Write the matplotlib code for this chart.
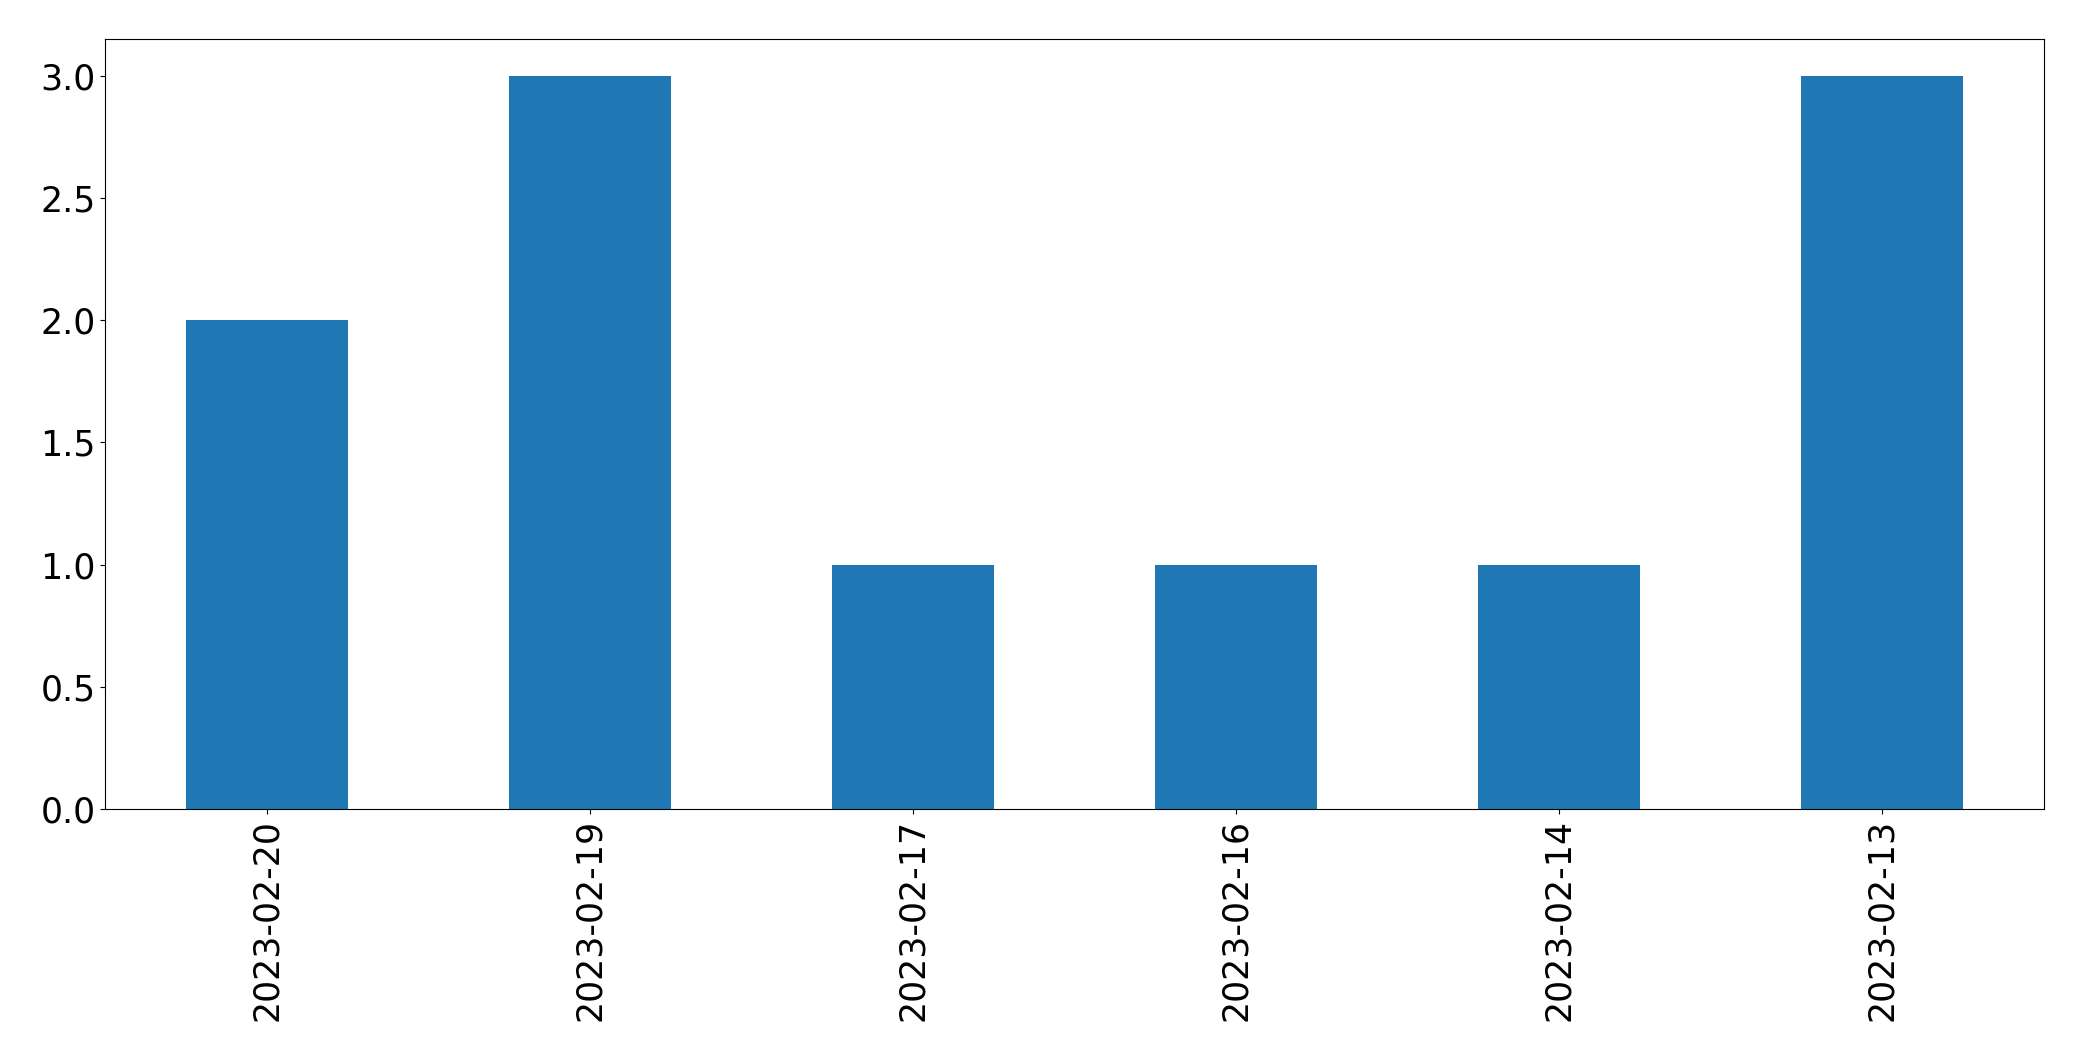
import matplotlib
matplotlib.use("Agg")
import matplotlib.pyplot as plt
import pandas as pd

dates = ["2023-02-20", "2023-02-19", "2023-02-17", "2023-02-16", "2023-02-14", "2023-02-13"]
counts = [2, 3, 1, 1, 1, 3]

plt.rcParams['font.size'] = 25
s = pd.Series(counts, index=dates)
fig = plt.figure(figsize=(20.82, 10.61), dpi=100)
ax = fig.add_axes([105.3/2082, 1 - 809/1061, (2043.7-105.3)/2082, (809-39.3)/1061])
s.plot(kind='bar', ax=ax, color='#1f77b4')
ax.tick_params(labelsize=25)
fig.savefig("out.png", dpi=100)
